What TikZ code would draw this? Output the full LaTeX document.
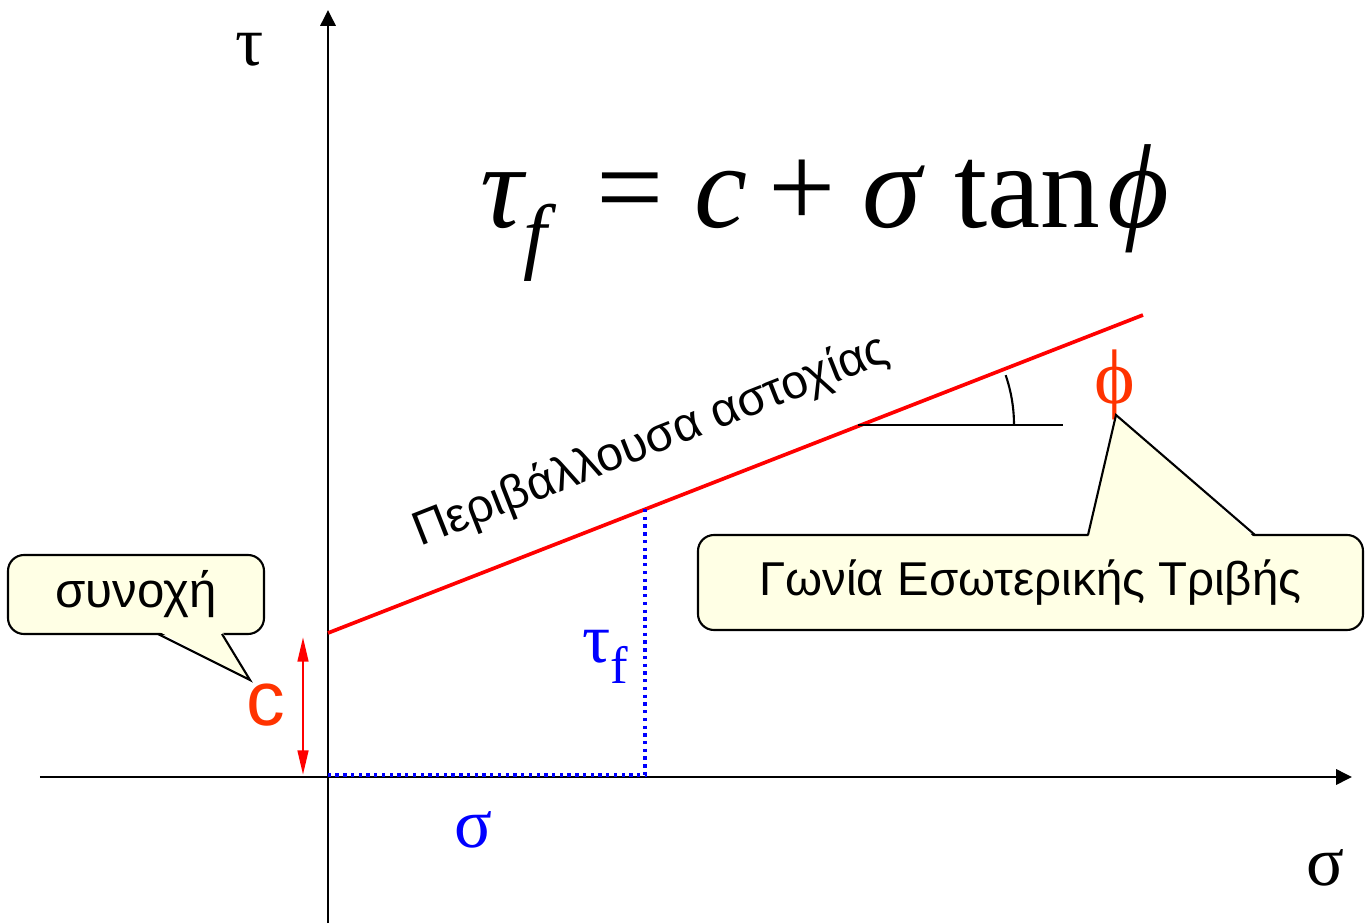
\documentclass[tikz,border=0pt]{standalone}
\usepackage{fontspec}
\setmainfont{Liberation Sans}
\newfontfamily\grserif{Liberation Serif}
\usetikzlibrary{arrows.meta, positioning, calc}
\definecolor{failred}{RGB}{255, 0, 0}
\definecolor{labelorange}{RGB}{255, 51, 0}
\definecolor{stressblue}{RGB}{0, 0, 255}
\definecolor{calloutfill}{RGB}{255, 255, 229}
\tikzset{
  axisarrow/.style={-{Triangle[length=4.5pt, width=4.3pt]}, line width=0.75pt, black},
  carrow/.style={{Triangle[length=7pt, width=3pt]}-{Triangle[length=7pt, width=3pt]}, line width=0.8pt, failred},
  envelope/.style={line width=1.05pt, failred},
  dotline/.style={line width=0.95pt, stressblue, dash pattern=on 0.95pt off 1.25pt},
  calloutbox/.style={draw, line width=0.6pt, fill=calloutfill, rounded corners=0.16cm, inner sep=0pt},
  anglemark/.style={line width=0.6pt, black}
}

\begin{document}
\begin{tikzpicture}
    \useasboundingbox (0,0) rectangle (13.65,9.23);

    % axes
    \coordinate (o) at (3.28, 1.46);
    \coordinate (ybot) at (3.28, 0);
    \coordinate (ytop) at (3.28, 9.13);
    \coordinate (xleft) at (0.40, 1.46);
    \coordinate (xright) at (13.52, 1.46);
    \draw[axisarrow] (ybot) -- (ytop);
    \draw[axisarrow] (xleft) -- (xright);
    \node (taxis) at (2.50, 8.73) {\fontsize{20}{24}\grserif τ};
    \node (saxis) at (13.25, 0.55) {\fontsize{20}{24}\grserif σ};

    % formula
    \node (law) at (8.25, 7.10) {\fontsize{34}{40}\grserif\itshape τ\raisebox{-0.3em}{\fontsize{24}{28}\selectfont f}\hspace{0.42em}\upshape =\hspace{0.25em}\itshape c\hspace{0.18em}\upshape +\hspace{0.22em}\itshape σ\hspace{0.28em}\upshape tan\hspace{0.06em}\itshape ϕ};

    % failure envelope
    \coordinate (c0) at (3.28, 2.90);
    \coordinate (e1) at (11.43, 6.08);
    \draw[envelope] (c0) -- (e1);
    \node (envtext) [anchor=base, rotate=21.5] at (6.56, 4.69) {\fontsize{13.6}{16}\selectfont Περιβάλλουσα αστοχίας};

    % stress point
    \coordinate (p) at (6.45, 4.14);
    \coordinate (pfoot) at (6.45, 1.48);
    \coordinate (ofoot) at (3.28, 1.48);
    \draw[dotline] (p) -- (pfoot) -- (ofoot);
    \node (tflabel) at (6.05, 2.66) {\fontsize{20}{24}\grserif\color{stressblue}τ\raisebox{-0.3em}{\fontsize{15}{18}\selectfont f}};
    \node (slabel) at (4.73, 0.93) {\fontsize{20}{24}\grserif\color{stressblue}σ};

    % friction angle
    \coordinate (av) at (8.61, 4.98);
    \coordinate (ahs) at (8.58, 4.98);
    \coordinate (ahe) at (10.63, 4.98);
    \draw[anglemark] (ahs) -- (ahe);
    \draw[anglemark] ($(av)+(1.53,0)$) arc[start angle=0, end angle=19, radius=1.53];
    \node (phi) at (11.15, 5.38) {\fontsize{22}{26}\grserif\color{labelorange}ϕ};

    % cohesion
    \coordinate (cbot) at (3.03, 1.48);
    \coordinate (ctop) at (3.03, 2.86);
    \draw[carrow] (cbot) -- (ctop);
    \node (clabel) at (2.66, 2.18) {\fontsize{22}{26}\selectfont\color{labelorange}c};

    % callouts
    \node (cohbox) [calloutbox, minimum width=2.56cm, minimum height=0.79cm] at (1.36, 3.285) {};
    \node (cohtext) at (cohbox.center) {\fontsize{14}{17}\selectfont συνοχή};
    \coordinate (cb1) at (1.58, 2.89);
    \coordinate (cb2) at (2.22, 2.89);
    \coordinate (ctip) at (2.50, 2.43);
    \fill[calloutfill] ($(cb1)+(0,0.03)$) -- (ctip) -- ($(cb2)+(0,0.03)$) -- cycle;
    \draw[line width=0.6pt, line join=miter] (cb1) -- (ctip) -- (cb2);

    \node (fricbox) [calloutbox, minimum width=6.65cm, minimum height=0.95cm] at (10.305, 3.405) {};
    \node (frictext) at (fricbox.center) {\fontsize{13.5}{16}\selectfont Γωνία Εσωτερικής Τριβής};
    \coordinate (fb1) at (10.88, 3.88);
    \coordinate (fb2) at (12.55, 3.88);
    \coordinate (ftip) at (11.16, 5.08);
    \fill[calloutfill] ($(fb1)+(0,-0.03)$) -- (ftip) -- ($(fb2)+(0,-0.03)$) -- cycle;
    \draw[line width=0.6pt] (fb1) -- (ftip) -- (fb2);
\end{tikzpicture}
\end{document}
